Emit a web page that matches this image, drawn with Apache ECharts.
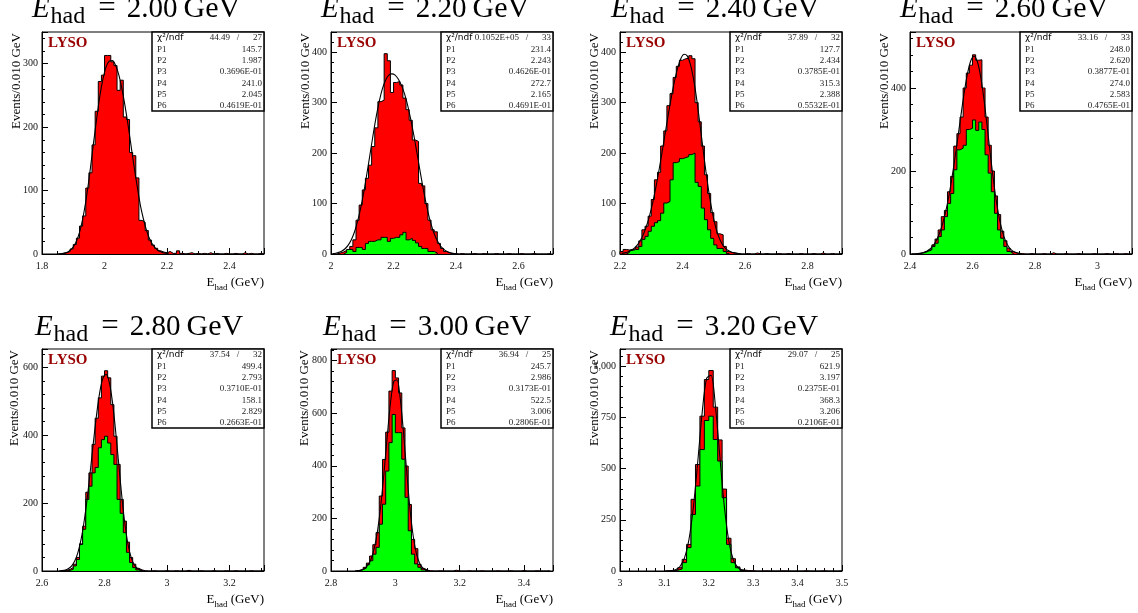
<!DOCTYPE html>
<html><head><meta charset="utf-8">
<script src="https://cdn.jsdelivr.net/npm/echarts@6/dist/echarts.min.js"></script>
<style>html,body{margin:0;padding:0;background:#fff}#c{width:1138px;height:613px}</style>
</head><body><div id="c"></div>
<script>
// ---------------- data ----------------
const BIN = 0.01;
const energies = ['2.00', '2.20', '2.40', '2.60', '2.80', '3.00', '3.20'];
const xMin = [1.8, 2.0, 2.2, 2.4, 2.6, 2.8, 3.0];
const xMax = [2.51, 2.71, 2.91, 3.11, 3.31, 3.49, 3.5];
const xStep = [0.2, 0.2, 0.2, 0.2, 0.2, 0.2, 0.1];
const yMax = [350, 440, 440, 535, 654, 844, 1084];
const yStep = [100, 100, 100, 200, 200, 200, 250];

// total (red) histograms: first bin low edge + bin contents
const redStart = [1.85, 2.02, 2.20, 2.42, 2.66, 2.88, 3.10];
const red1 = [0, 1, 2, 4, 8, 15, 25, 44, 60, 104, 128, 172, 225, 272, 282, 313, 313, 303, 297, 258, 274, 216, 212, 160, 155, 120, 53, 50, 37, 22, 14, 9, 5, 3, 2, 4, 1, 1, 5, 1, 0, 1, 2, 0, 1, 0, 1, 0, 2, 0, 1, 0, 0, 1, 0, 0, 1, 0, 0, 2, 0, 1, 0, 0, 1, 0];
const red2 = [2, 4, 7, 10, 15, 28, 67, 97, 127, 150, 176, 213, 250, 302, 305, 397, 383, 320, 340, 342, 335, 309, 286, 265, 226, 223, 140, 135, 100, 67, 48, 44, 21, 11, 5, 2, 1, 0, 0, 1, 0, 0, 0, 1, 0, 0, 1, 0, 0, 0, 1, 0, 0, 0, 1, 0, 0, 0, 1, 0, 0, 0, 1, 0, 0, 0, 0, 1];
const red3 = [5, 9, 8, 9, 10, 14, 26, 48, 55, 75, 108, 147, 162, 214, 244, 294, 318, 350, 372, 384, 387, 388, 393, 387, 300, 262, 214, 157, 120, 82, 64, 40, 38, 15, 5, 3, 2, 1, 0, 0, 1, 0, 0, 2, 0, 0, 1, 0, 0, 0, 1, 0, 0, 1, 0, 0, 0, 1, 0, 0, 0, 1, 0, 0, 2, 0, 0, 1, 0, 0, 1];
const red4 = [1, 2, 5, 8, 12, 22, 36, 58, 90, 105, 150, 187, 260, 290, 330, 400, 436, 455, 480, 467, 468, 400, 330, 262, 200, 140, 95, 55, 32, 14, 6, 3, 1, 1, 0, 0, 1, 0, 0, 0, 1, 0, 0, 3, 0, 0, 0, 1, 0, 0, 0, 1, 0, 0, 0, 0, 1, 0, 0, 0, 1, 0, 0, 1, 0, 0, 1, 0, 0];
const red5 = [1, 2, 5, 10, 20, 40, 80, 132, 232, 289, 373, 450, 510, 574, 590, 569, 490, 397, 314, 211, 147, 85, 40, 20, 8, 3, 1, 0, 0, 1, 0, 0, 0, 1, 0, 0, 1, 0, 0, 0, 2, 0, 0, 0, 1, 0, 0, 0, 1, 0, 0, 0, 1, 0, 0, 1, 0, 0, 0, 0, 1, 0, 0, 0, 1];
const red6 = [2, 6, 14, 30, 57, 100, 146, 285, 424, 528, 684, 762, 734, 677, 544, 399, 253, 120, 85, 25, 10, 3, 1, 0, 0, 1, 0, 0, 0, 0, 3, 0, 0, 0, 1, 0, 0, 0, 1, 0, 0, 0, 0, 1, 0, 0, 0, 1, 0, 0, 0, 2, 0, 0, 0, 1, 0, 0, 0, 1];
const red7 = [1, 2, 5, 16, 57, 130, 350, 520, 756, 935, 979, 800, 640, 400, 160, 60, 20, 5, 2, 1, 0, 0, 1, 0, 0, 0, 1, 0, 0, 0, 0, 1, 0, 0, 0, 1, 0, 0, 0, 1];
const redVals = [red1, red2, red3, red4, red5, red6, red7];

// component (green) histograms
const greenStart = [null, 2.04, 2.22, 2.43, 2.68, 2.88, 3.12];
const green2 = [3, 9, 9, 5, 13, 13, 9, 21, 25, 25, 28, 28, 33, 33, 25, 31, 33, 33, 38, 43, 28, 31, 27, 22, 15, 11, 11, 5, 5, 2];
const green3 = [3, 7, 9, 9, 15, 29, 35, 45, 55, 62, 66, 81, 101, 104, 147, 181, 183, 189, 191, 193, 197, 200, 142, 134, 91, 68, 48, 31, 18, 11, 11, 5, 1];
const green4 = [2, 4, 7, 10, 18, 26, 42, 58, 90, 122, 146, 203, 251, 255, 262, 300, 303, 323, 298, 318, 300, 239, 195, 150, 98, 58, 38, 18, 6, 2];
const green5 = [2, 5, 15, 34, 78, 123, 211, 250, 289, 305, 363, 387, 397, 377, 343, 314, 211, 170, 113, 55, 25, 10, 3, 1];
const green6 = [2, 5, 11, 24, 39, 64, 90, 178, 254, 380, 488, 595, 526, 526, 425, 280, 153, 64, 27, 14, 4, 1];
const green7 = [3, 10, 41, 114, 276, 415, 593, 735, 756, 642, 537, 358, 130, 41, 16, 3];
const greenVals = [null, green2, green3, green4, green5, green6, green7];

// fitted curve, read at bin centres
const fitStart = [1.855, 2.005, 2.205, 2.405, 2.655, 2.875, 3.105];
const fit1 = [0.3, 0.75, 1.8, 3.9, 7.9, 14.8, 26.4, 43.7, 68, 99, 136, 176, 214, 249, 276, 295, 304, 305, 298, 283.5, 262, 235, 204, 170, 136, 105, 76, 54, 36, 23, 14.2, 8.2, 4.6, 2.4, 1.2, 0.6];
const fit2 = [0.8, 1.6, 3.2, 5.9, 10.4, 17.6, 28.3, 43.6, 64.5, 91.2, 123, 160, 198.5, 237.5, 273.6, 304.6, 328.7, 345, 354.5, 357, 354.5, 347, 334.7, 317.8, 295, 267, 235, 199.8, 163.8, 129.2, 97.7, 70.7, 49.1, 32.6, 20.8, 12.4, 7.2, 4.0, 2.1, 1.0, 0.5];
const fit3 = [1.3, 2.3, 4.1, 6.8, 11.1, 17.5, 26.7, 39.2, 56, 77.2, 103, 133, 167, 203.5, 241, 278.3, 313.5, 344.5, 370, 388, 396, 392.6, 376.3, 347.4, 308, 260.8, 211, 162.7, 119.5, 83.5, 55.5, 35.4, 21.7, 12.8, 7.3, 4.1, 2.2, 1.1, 0.6];
const fit4 = [0.25, 0.55, 1.1, 2.2, 4.1, 7.4, 12.8, 21.1, 33.5, 51.2, 74.7, 104.9, 142.6, 187.5, 238, 291.3, 345.6, 396.7, 438.8, 466.8, 476.5, 464.6, 431.8, 381.5, 319.2, 252.6, 188.9, 133, 88.5, 55.8, 32.8, 18.2, 9.5, 4.7, 2.3, 1.0];
const fit5 = [0.5, 1.3, 3.2, 7.2, 15.2, 30, 55, 93, 148, 217, 299, 384.4, 464, 528.4, 568.7, 579.5, 556.7, 500.3, 417, 319.3, 222, 139.4, 78.8, 40.4, 18.7, 7.9, 3.1, 1.1];
const fit6 = [0.5, 1.6, 4.1, 10.2, 22.8, 46.7, 88.7, 156, 252, 377, 515, 640.6, 719.7, 727, 658.4, 530.7, 381.8, 242.5, 136.7, 68.6, 30.2, 11.7, 3.9, 1.0];
const fit7 = [0.3, 1.6, 6.4, 21.8, 62, 150, 306.6, 530, 771.5, 941, 955.6, 802.7, 555.8, 315.8, 147.2, 56.2, 17.6, 4.6, 1.0];
const fitVals = [fit1, fit2, fit3, fit4, fit5, fit6, fit7];

// fit statistics boxes
const chi2 = ['44.49', '0.1052E+05', '37.89', '33.16', '37.54', '36.94', '29.07'];
const ndf = ['27', '33', '32', '33', '32', '25', '25'];
const parNames = ['P1', 'P2', 'P3', 'P4', 'P5', 'P6'];
const parVals = [
  ['145.7', '1.987', '0.3696E-01', '241.0', '2.045', '0.4619E-01'],
  ['231.4', '2.243', '0.4626E-01', '272.7', '2.165', '0.4691E-01'],
  ['127.7', '2.434', '0.3785E-01', '315.3', '2.388', '0.5532E-01'],
  ['248.0', '2.620', '0.3877E-01', '274.0', '2.583', '0.4765E-01'],
  ['499.4', '2.793', '0.3710E-01', '158.1', '2.829', '0.2663E-01'],
  ['245.7', '2.986', '0.3173E-01', '522.5', '3.006', '0.2806E-01'],
  ['621.9', '3.197', '0.2375E-01', '368.3', '3.206', '0.2106E-01']
];

// ---------------- layout ----------------
const L = [42, 331, 620, 910, 42, 331, 620];
const T = [32, 32, 32, 32, 349, 349, 349];
const W = 222, H = 222;
const titleCx = [136, 425, 715, 1004, 139, 427, 714];
const titleY = [29, 29, 29, 29, 347, 347, 347];
const yTitleX = [17, 306, 595, 885, 15, 305, 595];
const SERIF = 'Liberation Serif';

const r3 = v => Math.round(v * 1000) / 1000;
function histData(start, vals) {
  const d = [[r3(start), 0]];
  vals.forEach((v, k) => d.push([r3(start + k * BIN), v]));
  d.push([r3(start + vals.length * BIN), 0]);
  return d;
}
function curveData(start, vals) {
  return vals.map((v, k) => [r3(start + k * BIN), v]);
}

const grids = [], xAxes = [], yAxes = [], series = [], graphics = [];
for (let i = 0; i < 7; i++) {
  grids.push({ left: L[i], top: T[i], width: W, height: H, show: true, borderColor: '#000', borderWidth: 1, backgroundColor: 'transparent' });
  const lab = { fontFamily: SERIF, fontSize: 10, color: '#111' };
  xAxes.push({
    type: 'value', gridIndex: i, min: xMin[i], max: xMax[i], interval: xStep[i],
    axisLine: { show: true, onZero: false, lineStyle: { color: '#000', width: 1 } },
    axisTick: { show: true, inside: true, length: 6, lineStyle: { color: '#000' } },
    minorTick: { show: true, splitNumber: i === 6 ? 5 : 4, length: 3, lineStyle: { color: '#000' } },
    splitLine: { show: false },
    axisLabel: Object.assign({ margin: 7, showMaxLabel: i === 6, showMinLabel: true }, lab)
  });
  yAxes.push({
    type: 'value', gridIndex: i, min: 0, max: yMax[i], interval: yStep[i],
    axisLine: { show: true, onZero: false, lineStyle: { color: '#000', width: 1 } },
    axisTick: { show: true, inside: true, length: 6, lineStyle: { color: '#000' } },
    minorTick: { show: true, splitNumber: 5, length: 3, lineStyle: { color: '#000' } },
    splitLine: { show: false },
    axisLabel: Object.assign({ margin: 4, showMaxLabel: false }, lab)
  });
  series.push({
    type: 'line', xAxisIndex: i, yAxisIndex: i, step: 'end', symbol: 'none',
    data: histData(redStart[i], redVals[i]),
    lineStyle: { color: '#000', width: 1 }, areaStyle: { color: '#ff0000', opacity: 1 },
    z: 2, animation: false, silent: true
  });
  if (greenVals[i]) {
    series.push({
      type: 'line', xAxisIndex: i, yAxisIndex: i, step: 'end', symbol: 'none',
      data: histData(greenStart[i], greenVals[i]),
      lineStyle: { color: '#000', width: 1 }, areaStyle: { color: '#00ff00', opacity: 1 },
      z: 3, animation: false, silent: true
    });
  }
  series.push({
    type: 'line', xAxisIndex: i, yAxisIndex: i, smooth: 0.3, symbol: 'none',
    data: curveData(fitStart[i], fitVals[i]),
    lineStyle: { color: '#000', width: 1.1 }, z: 4, animation: false, silent: true
  });

  // panel title  E_had = x.xx GeV
  const mainTok = (size, padL, extra) => Object.assign({ fontFamily: SERIF, fontSize: size, lineHeight: size, padding: [0, 0, 5, padL], verticalAlign: 'bottom', fill: '#000' }, extra || {});
  graphics.push({
    type: 'text', x: titleCx[i], y: titleY[i], z: 10,
    style: {
      text: '{e|E}{s|had}{q|=}{d|' + energies[i] + '}{g|GeV}',
      align: 'center', verticalAlign: 'bottom',
      rich: {
        e: mainTok(29, 0, { fontStyle: 'italic' }),
        s: { fontFamily: SERIF, fontSize: 24, lineHeight: 24, padding: [0, 0, 0, 1], verticalAlign: 'bottom', fill: '#000' },
        q: mainTok(31, 13),
        d: mainTok(29, 11),
        g: mainTok(30, 6)
      }
    }
  });
  // y-axis title
  graphics.push({
    type: 'text', x: yTitleX[i], y: T[i] + 1, rotation: Math.PI / 2, z: 10,
    style: { text: 'Events/0.010 GeV', align: 'right', verticalAlign: 'middle', font: '13px "' + SERIF + '"', fill: '#000' }
  });
  // x-axis title
  graphics.push({
    type: 'text', x: L[i] + W, y: T[i] + H + 38, z: 10,
    style: {
      text: '{m|E}{s|had}{m| (GeV)}', align: 'right', verticalAlign: 'bottom',
      rich: {
        m: { fontFamily: SERIF, fontSize: 13, lineHeight: 13, padding: [0, 0, 3, 0], verticalAlign: 'bottom', fill: '#000' },
        s: { fontFamily: SERIF, fontSize: 9, lineHeight: 9, verticalAlign: 'bottom', fill: '#000' }
      }
    }
  });
  // LYSO label
  graphics.push({
    type: 'text', x: L[i] + 6, y: T[i] + 11, z: 10,
    style: { text: 'LYSO', align: 'left', verticalAlign: 'middle', font: 'bold 15px "' + SERIF + '"', fill: '#990000' }
  });
  // stats box
  const bw = 112, bh = 79, bx = L[i] + W - bw, by = T[i];
  graphics.push({ type: 'rect', shape: { x: bx, y: by, width: bw, height: bh }, style: { fill: '#fff', stroke: '#000', lineWidth: 1.5 }, z: 10 });
  const rowY = k => by + 6 + k * 11.3;
  const small = '9px "' + SERIF + '"';
  graphics.push({ type: 'text', x: bx + 5, y: rowY(0), z: 11, style: { text: 'χ²/ndf', align: 'left', verticalAlign: 'middle', font: '9px "DejaVu Sans"', fill: '#000' } });
  graphics.push({ type: 'text', x: bx + bw - 34, y: rowY(0), z: 11, style: { text: chi2[i], align: 'right', verticalAlign: 'middle', font: small, fill: '#222' } });
  graphics.push({ type: 'text', x: bx + bw - 26, y: rowY(0), z: 11, style: { text: '/', align: 'center', verticalAlign: 'middle', font: small, fill: '#222' } });
  graphics.push({ type: 'text', x: bx + bw - 2, y: rowY(0), z: 11, style: { text: ndf[i], align: 'right', verticalAlign: 'middle', font: small, fill: '#222' } });
  for (let k = 0; k < 6; k++) {
    graphics.push({ type: 'text', x: bx + 5, y: rowY(k + 1), z: 11, style: { text: parNames[k], align: 'left', verticalAlign: 'middle', font: small, fill: '#222' } });
    graphics.push({ type: 'text', x: bx + bw - 2, y: rowY(k + 1), z: 11, style: { text: parVals[i][k], align: 'right', verticalAlign: 'middle', font: small, fill: '#222' } });
  }
}

const chart = echarts.init(document.getElementById('c'), null, { renderer: 'canvas' });
chart.setOption({
  backgroundColor: '#fff',
  animation: false,
  grid: grids, xAxis: xAxes, yAxis: yAxes, series: series,
  graphic: { elements: graphics }
});
</script>
</body></html>
